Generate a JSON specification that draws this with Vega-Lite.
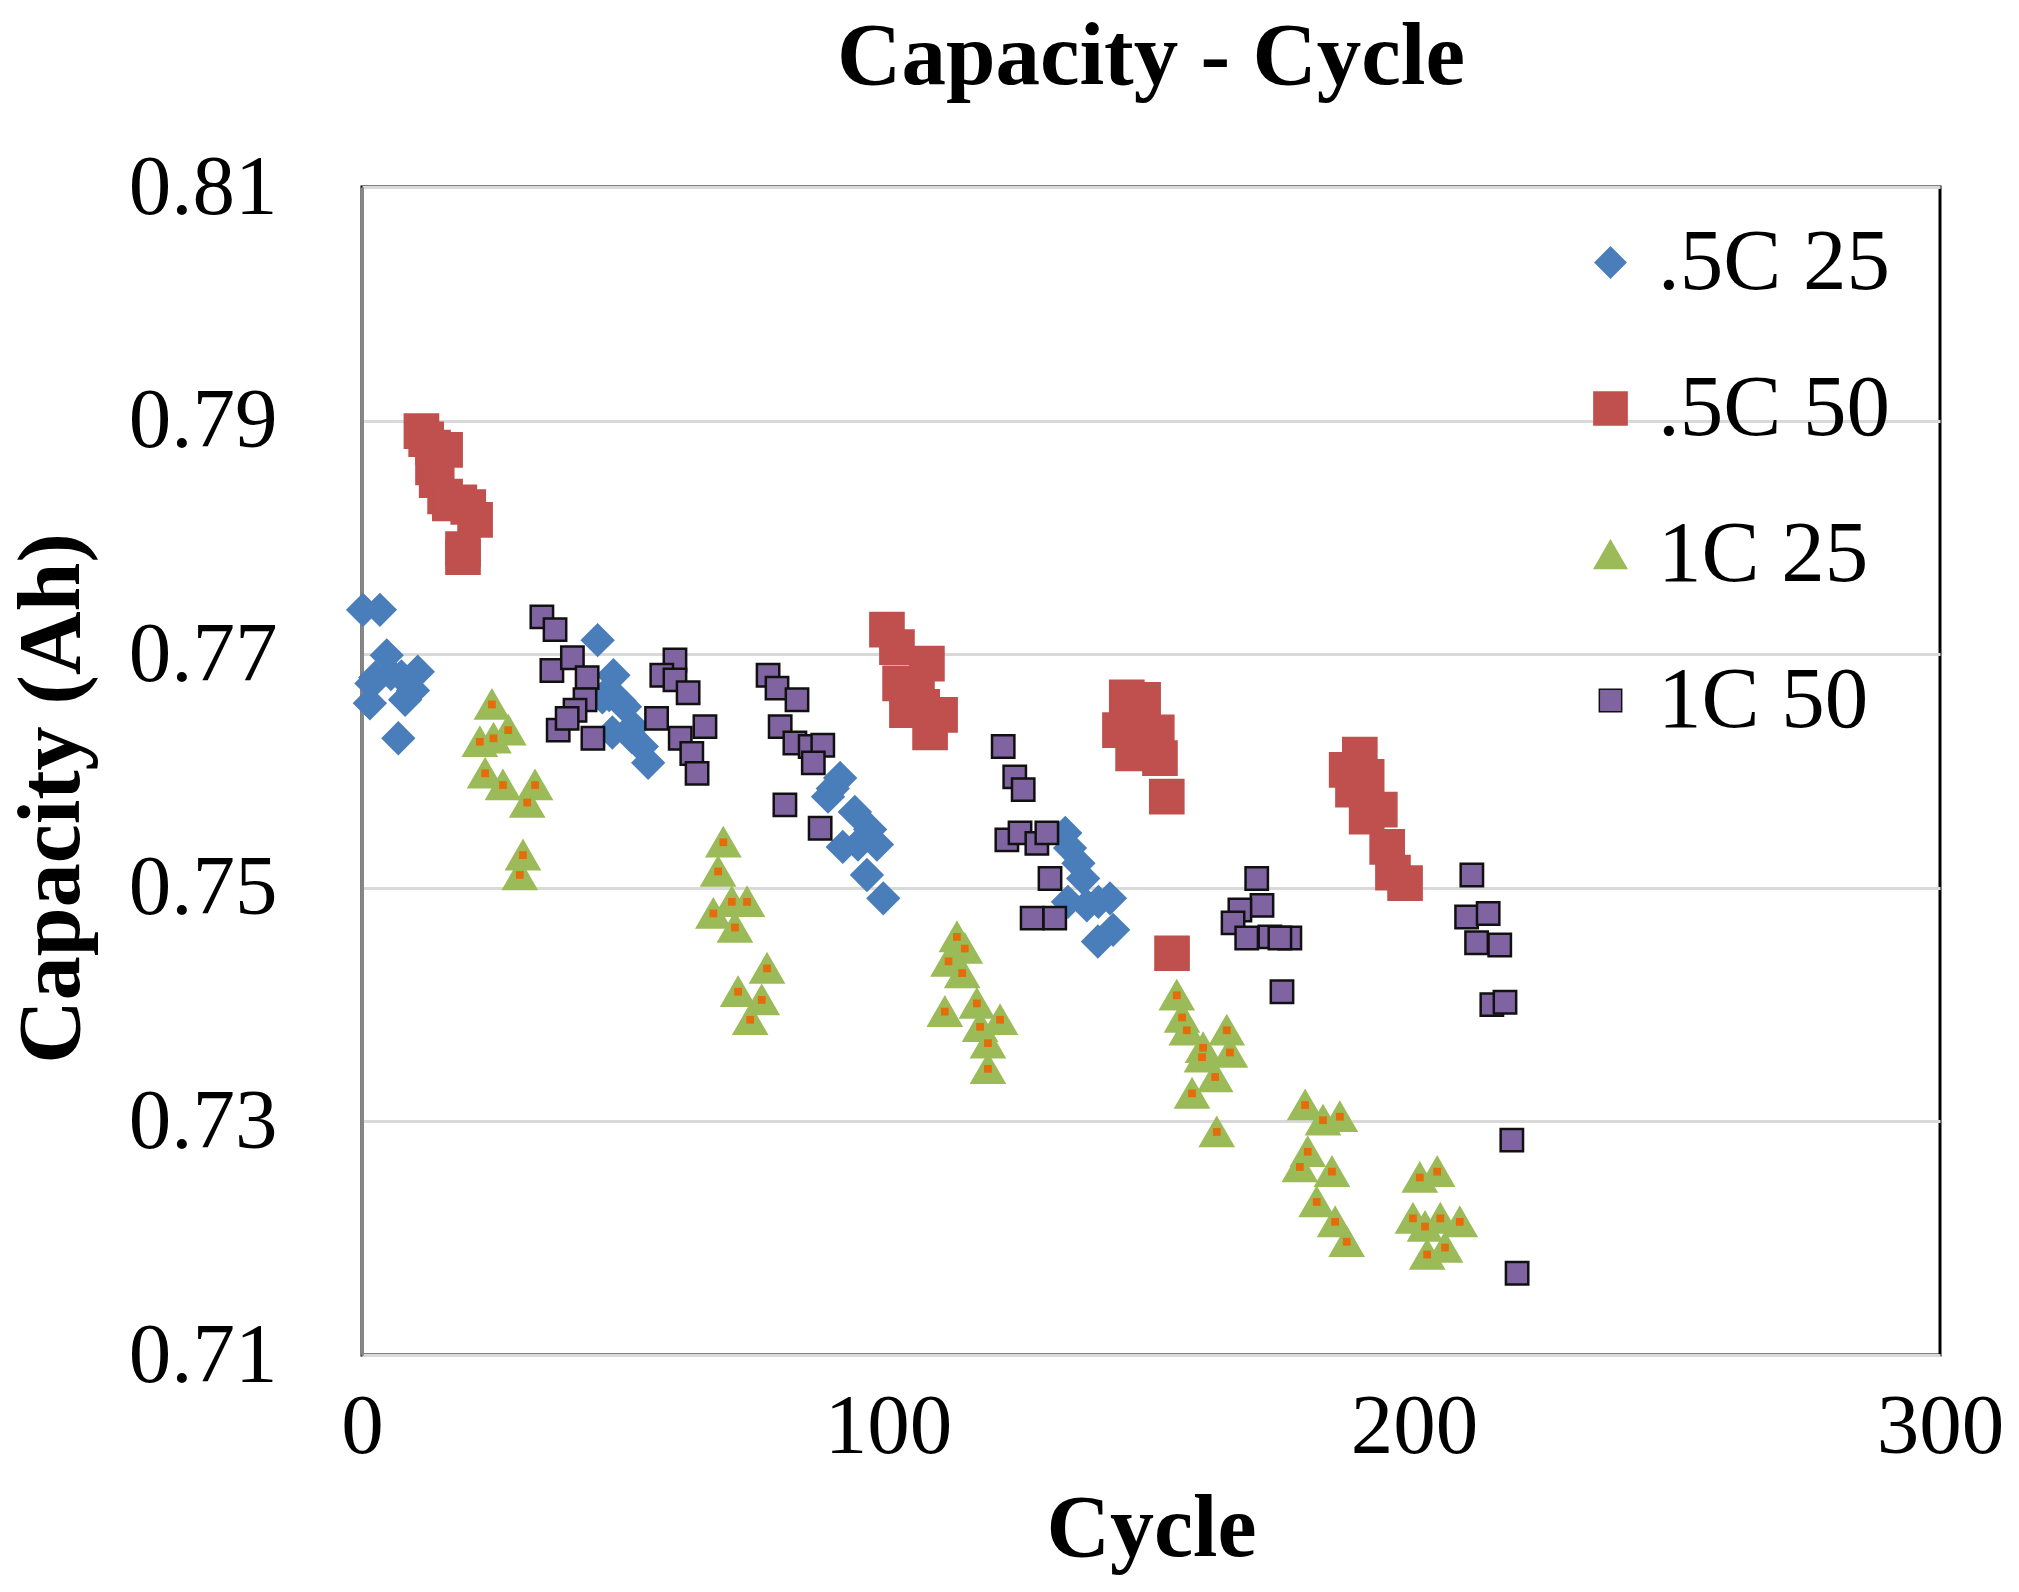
{
  "$schema": "https://vega.github.io/schema/vega-lite/v6.json",
  "autosize": "none",
  "width": 1578,
  "height": 1168,
  "padding": {"left": 362, "top": 187, "right": 79, "bottom": 237},
  "background": "white",
  "title": {
    "text": "Capacity - Cycle",
    "font": "Liberation Serif",
    "fontSize": 89,
    "fontWeight": "bold",
    "color": "black",
    "anchor": "middle",
    "frame": "group",
    "baseline": "alphabetic",
    "offset": -28
  },
  "data": {
    "values": [
      {"cycle": 0.2, "capacity": 0.7738, "series": ".5C 25"},
      {"cycle": 3.4, "capacity": 0.7738, "series": ".5C 25"},
      {"cycle": 4.7, "capacity": 0.7699, "series": ".5C 25"},
      {"cycle": 1.8, "capacity": 0.7675, "series": ".5C 25"},
      {"cycle": 2.5, "capacity": 0.768, "series": ".5C 25"},
      {"cycle": 5.5, "capacity": 0.7683, "series": ".5C 25"},
      {"cycle": 7.5, "capacity": 0.7681, "series": ".5C 25"},
      {"cycle": 10.6, "capacity": 0.7685, "series": ".5C 25"},
      {"cycle": 9.7, "capacity": 0.7669, "series": ".5C 25"},
      {"cycle": 8.2, "capacity": 0.7661, "series": ".5C 25"},
      {"cycle": 1.5, "capacity": 0.7658, "series": ".5C 25"},
      {"cycle": 6.9, "capacity": 0.7628, "series": ".5C 25"},
      {"cycle": 44.8, "capacity": 0.7712, "series": ".5C 25"},
      {"cycle": 47.8, "capacity": 0.7682, "series": ".5C 25"},
      {"cycle": 45.7, "capacity": 0.7663, "series": ".5C 25"},
      {"cycle": 47.0, "capacity": 0.7665, "series": ".5C 25"},
      {"cycle": 49.0, "capacity": 0.766, "series": ".5C 25"},
      {"cycle": 50.0, "capacity": 0.7655, "series": ".5C 25"},
      {"cycle": 47.6, "capacity": 0.7633, "series": ".5C 25"},
      {"cycle": 51.3, "capacity": 0.7629, "series": ".5C 25"},
      {"cycle": 51.5, "capacity": 0.7638, "series": ".5C 25"},
      {"cycle": 53.2, "capacity": 0.7621, "series": ".5C 25"},
      {"cycle": 54.4, "capacity": 0.7607, "series": ".5C 25"},
      {"cycle": 90.9, "capacity": 0.7594, "series": ".5C 25"},
      {"cycle": 88.6, "capacity": 0.7578, "series": ".5C 25"},
      {"cycle": 89.5, "capacity": 0.7585, "series": ".5C 25"},
      {"cycle": 93.7, "capacity": 0.7565, "series": ".5C 25"},
      {"cycle": 96.6, "capacity": 0.755, "series": ".5C 25"},
      {"cycle": 91.4, "capacity": 0.7535, "series": ".5C 25"},
      {"cycle": 94.3, "capacity": 0.7537, "series": ".5C 25"},
      {"cycle": 97.9, "capacity": 0.7537, "series": ".5C 25"},
      {"cycle": 96.0, "capacity": 0.7511, "series": ".5C 25"},
      {"cycle": 99.1, "capacity": 0.7491, "series": ".5C 25"},
      {"cycle": 133.7, "capacity": 0.7547, "series": ".5C 25"},
      {"cycle": 134.6, "capacity": 0.7534, "series": ".5C 25"},
      {"cycle": 136.2, "capacity": 0.7521, "series": ".5C 25"},
      {"cycle": 137.1, "capacity": 0.7508, "series": ".5C 25"},
      {"cycle": 134.2, "capacity": 0.7488, "series": ".5C 25"},
      {"cycle": 137.8, "capacity": 0.7485, "series": ".5C 25"},
      {"cycle": 140.0, "capacity": 0.7488, "series": ".5C 25"},
      {"cycle": 142.2, "capacity": 0.7491, "series": ".5C 25"},
      {"cycle": 142.8, "capacity": 0.7464, "series": ".5C 25"},
      {"cycle": 139.9, "capacity": 0.7454, "series": ".5C 25"},
      {"cycle": 11.3, "capacity": 0.7891, "series": ".5C 50"},
      {"cycle": 12.2, "capacity": 0.7884, "series": ".5C 50"},
      {"cycle": 13.5, "capacity": 0.7877, "series": ".5C 50"},
      {"cycle": 15.8, "capacity": 0.7875, "series": ".5C 50"},
      {"cycle": 13.5, "capacity": 0.786, "series": ".5C 50"},
      {"cycle": 14.2, "capacity": 0.7849, "series": ".5C 50"},
      {"cycle": 15.8, "capacity": 0.7835, "series": ".5C 50"},
      {"cycle": 16.7, "capacity": 0.7829, "series": ".5C 50"},
      {"cycle": 18.5, "capacity": 0.783, "series": ".5C 50"},
      {"cycle": 20.2, "capacity": 0.7826, "series": ".5C 50"},
      {"cycle": 21.5, "capacity": 0.7815, "series": ".5C 50"},
      {"cycle": 19.2, "capacity": 0.779, "series": ".5C 50"},
      {"cycle": 19.2, "capacity": 0.7783, "series": ".5C 50"},
      {"cycle": 99.8, "capacity": 0.7721, "series": ".5C 50"},
      {"cycle": 101.7, "capacity": 0.7706, "series": ".5C 50"},
      {"cycle": 107.4, "capacity": 0.7692, "series": ".5C 50"},
      {"cycle": 102.3, "capacity": 0.7675, "series": ".5C 50"},
      {"cycle": 105.5, "capacity": 0.7663, "series": ".5C 50"},
      {"cycle": 103.6, "capacity": 0.7652, "series": ".5C 50"},
      {"cycle": 109.9, "capacity": 0.7648, "series": ".5C 50"},
      {"cycle": 108.0, "capacity": 0.7633, "series": ".5C 50"},
      {"cycle": 106.5, "capacity": 0.7655, "series": ".5C 50"},
      {"cycle": 145.4, "capacity": 0.7663, "series": ".5C 50"},
      {"cycle": 148.5, "capacity": 0.7661, "series": ".5C 50"},
      {"cycle": 144.1, "capacity": 0.7635, "series": ".5C 50"},
      {"cycle": 147.3, "capacity": 0.7638, "series": ".5C 50"},
      {"cycle": 151.1, "capacity": 0.7633, "series": ".5C 50"},
      {"cycle": 146.6, "capacity": 0.7615, "series": ".5C 50"},
      {"cycle": 151.7, "capacity": 0.7611, "series": ".5C 50"},
      {"cycle": 149.0, "capacity": 0.7625, "series": ".5C 50"},
      {"cycle": 153.0, "capacity": 0.7578, "series": ".5C 50"},
      {"cycle": 154.0, "capacity": 0.7444, "series": ".5C 50"},
      {"cycle": 189.7, "capacity": 0.7614, "series": ".5C 50"},
      {"cycle": 187.2, "capacity": 0.7601, "series": ".5C 50"},
      {"cycle": 191.0, "capacity": 0.7595, "series": ".5C 50"},
      {"cycle": 188.4, "capacity": 0.7584, "series": ".5C 50"},
      {"cycle": 193.5, "capacity": 0.7567, "series": ".5C 50"},
      {"cycle": 191.0, "capacity": 0.7561, "series": ".5C 50"},
      {"cycle": 194.9, "capacity": 0.7535, "series": ".5C 50"},
      {"cycle": 196.0, "capacity": 0.7513, "series": ".5C 50"},
      {"cycle": 198.3, "capacity": 0.7504, "series": ".5C 50"},
      {"cycle": 24.7, "capacity": 0.7657, "series": "1C 25"},
      {"cycle": 27.8, "capacity": 0.7635, "series": "1C 25"},
      {"cycle": 22.4, "capacity": 0.7625, "series": "1C 25"},
      {"cycle": 25.0, "capacity": 0.7628, "series": "1C 25"},
      {"cycle": 23.4, "capacity": 0.7598, "series": "1C 25"},
      {"cycle": 26.8, "capacity": 0.7588, "series": "1C 25"},
      {"cycle": 32.9, "capacity": 0.7588, "series": "1C 25"},
      {"cycle": 31.4, "capacity": 0.7573, "series": "1C 25"},
      {"cycle": 30.6, "capacity": 0.7528, "series": "1C 25"},
      {"cycle": 30.0, "capacity": 0.7511, "series": "1C 25"},
      {"cycle": 68.7, "capacity": 0.7539, "series": "1C 25"},
      {"cycle": 67.7, "capacity": 0.7514, "series": "1C 25"},
      {"cycle": 66.8, "capacity": 0.7478, "series": "1C 25"},
      {"cycle": 70.3, "capacity": 0.7488, "series": "1C 25"},
      {"cycle": 73.2, "capacity": 0.7488, "series": "1C 25"},
      {"cycle": 70.9, "capacity": 0.7466, "series": "1C 25"},
      {"cycle": 77.0, "capacity": 0.7431, "series": "1C 25"},
      {"cycle": 71.5, "capacity": 0.7411, "series": "1C 25"},
      {"cycle": 76.0, "capacity": 0.7404, "series": "1C 25"},
      {"cycle": 73.8, "capacity": 0.7387, "series": "1C 25"},
      {"cycle": 113.1, "capacity": 0.7458, "series": "1C 25"},
      {"cycle": 114.6, "capacity": 0.7448, "series": "1C 25"},
      {"cycle": 111.5, "capacity": 0.7437, "series": "1C 25"},
      {"cycle": 114.1, "capacity": 0.7427, "series": "1C 25"},
      {"cycle": 110.8, "capacity": 0.7394, "series": "1C 25"},
      {"cycle": 116.9, "capacity": 0.7401, "series": "1C 25"},
      {"cycle": 121.3, "capacity": 0.7387, "series": "1C 25"},
      {"cycle": 117.5, "capacity": 0.7381, "series": "1C 25"},
      {"cycle": 119.0, "capacity": 0.7367, "series": "1C 25"},
      {"cycle": 119.0, "capacity": 0.7345, "series": "1C 25"},
      {"cycle": 154.9, "capacity": 0.7408, "series": "1C 25"},
      {"cycle": 155.9, "capacity": 0.7389, "series": "1C 25"},
      {"cycle": 156.8, "capacity": 0.7378, "series": "1C 25"},
      {"cycle": 159.9, "capacity": 0.7363, "series": "1C 25"},
      {"cycle": 164.4, "capacity": 0.7378, "series": "1C 25"},
      {"cycle": 165.0, "capacity": 0.7359, "series": "1C 25"},
      {"cycle": 159.7, "capacity": 0.7355, "series": "1C 25"},
      {"cycle": 162.2, "capacity": 0.7338, "series": "1C 25"},
      {"cycle": 157.8, "capacity": 0.7324, "series": "1C 25"},
      {"cycle": 162.5, "capacity": 0.7291, "series": "1C 25"},
      {"cycle": 179.3, "capacity": 0.7314, "series": "1C 25"},
      {"cycle": 182.7, "capacity": 0.7301, "series": "1C 25"},
      {"cycle": 185.9, "capacity": 0.7304, "series": "1C 25"},
      {"cycle": 179.8, "capacity": 0.7274, "series": "1C 25"},
      {"cycle": 178.3, "capacity": 0.7261, "series": "1C 25"},
      {"cycle": 184.4, "capacity": 0.7257, "series": "1C 25"},
      {"cycle": 181.5, "capacity": 0.7231, "series": "1C 25"},
      {"cycle": 185.0, "capacity": 0.7214, "series": "1C 25"},
      {"cycle": 187.2, "capacity": 0.7197, "series": "1C 25"},
      {"cycle": 201.1, "capacity": 0.7252, "series": "1C 25"},
      {"cycle": 204.4, "capacity": 0.7257, "series": "1C 25"},
      {"cycle": 199.8, "capacity": 0.7217, "series": "1C 25"},
      {"cycle": 202.1, "capacity": 0.721, "series": "1C 25"},
      {"cycle": 205.0, "capacity": 0.7217, "series": "1C 25"},
      {"cycle": 208.7, "capacity": 0.7214, "series": "1C 25"},
      {"cycle": 205.9, "capacity": 0.7192, "series": "1C 25"},
      {"cycle": 202.5, "capacity": 0.7186, "series": "1C 25"},
      {"cycle": 34.2, "capacity": 0.7732, "series": "1C 50"},
      {"cycle": 36.7, "capacity": 0.7721, "series": "1C 50"},
      {"cycle": 36.1, "capacity": 0.7686, "series": "1C 50"},
      {"cycle": 40.0, "capacity": 0.7697, "series": "1C 50"},
      {"cycle": 42.8, "capacity": 0.768, "series": "1C 50"},
      {"cycle": 42.4, "capacity": 0.7661, "series": "1C 50"},
      {"cycle": 40.5, "capacity": 0.7652, "series": "1C 50"},
      {"cycle": 37.3, "capacity": 0.7635, "series": "1C 50"},
      {"cycle": 43.9, "capacity": 0.7628, "series": "1C 50"},
      {"cycle": 39.0, "capacity": 0.7645, "series": "1C 50"},
      {"cycle": 59.5, "capacity": 0.7695, "series": "1C 50"},
      {"cycle": 57.0, "capacity": 0.7682, "series": "1C 50"},
      {"cycle": 59.5, "capacity": 0.7678, "series": "1C 50"},
      {"cycle": 62.0, "capacity": 0.7667, "series": "1C 50"},
      {"cycle": 56.0, "capacity": 0.7645, "series": "1C 50"},
      {"cycle": 60.5, "capacity": 0.7628, "series": "1C 50"},
      {"cycle": 65.2, "capacity": 0.7638, "series": "1C 50"},
      {"cycle": 62.7, "capacity": 0.7615, "series": "1C 50"},
      {"cycle": 63.7, "capacity": 0.7598, "series": "1C 50"},
      {"cycle": 77.2, "capacity": 0.7682, "series": "1C 50"},
      {"cycle": 78.9, "capacity": 0.7671, "series": "1C 50"},
      {"cycle": 82.7, "capacity": 0.7661, "series": "1C 50"},
      {"cycle": 79.5, "capacity": 0.7638, "series": "1C 50"},
      {"cycle": 82.3, "capacity": 0.7624, "series": "1C 50"},
      {"cycle": 85.2, "capacity": 0.7621, "series": "1C 50"},
      {"cycle": 87.6, "capacity": 0.7622, "series": "1C 50"},
      {"cycle": 85.8, "capacity": 0.7607, "series": "1C 50"},
      {"cycle": 80.4, "capacity": 0.7571, "series": "1C 50"},
      {"cycle": 87.1, "capacity": 0.7551, "series": "1C 50"},
      {"cycle": 121.9, "capacity": 0.7621, "series": "1C 50"},
      {"cycle": 124.1, "capacity": 0.7595, "series": "1C 50"},
      {"cycle": 125.7, "capacity": 0.7584, "series": "1C 50"},
      {"cycle": 122.6, "capacity": 0.7541, "series": "1C 50"},
      {"cycle": 125.1, "capacity": 0.7547, "series": "1C 50"},
      {"cycle": 128.3, "capacity": 0.7538, "series": "1C 50"},
      {"cycle": 130.2, "capacity": 0.7547, "series": "1C 50"},
      {"cycle": 130.8, "capacity": 0.7508, "series": "1C 50"},
      {"cycle": 127.4, "capacity": 0.7474, "series": "1C 50"},
      {"cycle": 131.7, "capacity": 0.7474, "series": "1C 50"},
      {"cycle": 170.1, "capacity": 0.7508, "series": "1C 50"},
      {"cycle": 171.1, "capacity": 0.7485, "series": "1C 50"},
      {"cycle": 166.9, "capacity": 0.7481, "series": "1C 50"},
      {"cycle": 165.6, "capacity": 0.747, "series": "1C 50"},
      {"cycle": 168.2, "capacity": 0.7457, "series": "1C 50"},
      {"cycle": 172.6, "capacity": 0.7458, "series": "1C 50"},
      {"cycle": 176.4, "capacity": 0.7457, "series": "1C 50"},
      {"cycle": 174.5, "capacity": 0.7457, "series": "1C 50"},
      {"cycle": 174.9, "capacity": 0.7411, "series": "1C 50"},
      {"cycle": 211.0, "capacity": 0.7511, "series": "1C 50"},
      {"cycle": 210.0, "capacity": 0.7475, "series": "1C 50"},
      {"cycle": 214.1, "capacity": 0.7478, "series": "1C 50"},
      {"cycle": 211.9, "capacity": 0.7453, "series": "1C 50"},
      {"cycle": 216.3, "capacity": 0.7451, "series": "1C 50"},
      {"cycle": 214.8, "capacity": 0.74, "series": "1C 50"},
      {"cycle": 217.3, "capacity": 0.7402, "series": "1C 50"},
      {"cycle": 218.6, "capacity": 0.7284, "series": "1C 50"},
      {"cycle": 219.6, "capacity": 0.717, "series": "1C 50"}
    ]
  },
  "encoding": {
    "x": {
      "field": "cycle",
      "type": "quantitative",
      "title": "Cycle",
      "scale": {"domain": [0, 300], "nice": false},
      "axis": {
        "values": [0, 100, 200, 300],
        "grid": false,
        "ticks": false,
        "domain": false,
        "labelFont": "Liberation Serif",
        "labelFontSize": 85,
        "labelColor": "black",
        "labelPadding": 30,
        "labelFlush": false,
        "labelOverlap": false,
        "titleFont": "Liberation Serif",
        "titleFontSize": 88,
        "titleFontWeight": "bold",
        "titleColor": "black",
        "titleBaseline": "alphabetic",
        "titleX": 789,
        "titleY": 200
      }
    },
    "y": {
      "field": "capacity",
      "type": "quantitative",
      "title": "Capacity (Ah)",
      "scale": {"domain": [0.71, 0.81], "nice": false, "zero": false},
      "axis": {
        "values": [0.71, 0.73, 0.75, 0.77, 0.79, 0.81],
        "format": ".2f",
        "ticks": false,
        "domain": true,
        "domainColor": "#868686",
        "domainWidth": 3,
        "grid": true,
        "gridColor": "#d9d9d9",
        "gridWidth": 3,
        "labelFont": "Liberation Serif",
        "labelFontSize": 85,
        "labelColor": "black",
        "labelPadding": 85,
        "labelFlush": false,
        "labelOverlap": false,
        "titleFont": "Liberation Serif",
        "titleFontSize": 88,
        "titleFontWeight": "bold",
        "titleColor": "black",
        "titleAngle": -90,
        "titleBaseline": "middle",
        "titleX": -310,
        "titleY": 611
      }
    }
  },
  "layer": [
    {
      "mark": {"type": "point", "filled": true, "opacity": 1, "strokeWidth": 2.5},
      "encoding": {
        "color": {
          "field": "series",
          "type": "nominal",
          "title": null,
          "scale": {
            "domain": [".5C 25", ".5C 50", "1C 25", "1C 50"],
            "range": ["#4a7ebb", "#c0504d", "#9bbb59", "#8064a2"]
          },
          "legend": {
            "orient": "none",
            "legendX": 1205,
            "legendY": 32,
            "padding": 0,
            "rowPadding": 58,
            "labelFont": "Liberation Serif",
            "labelFontSize": 87,
            "labelColor": "black",
            "labelOffset": 4,
            "labelLimit": 500,
            "symbolOpacity": 1
          }
        },
        "shape": {
          "field": "series",
          "type": "nominal",
          "title": null,
          "scale": {
            "domain": [".5C 25", ".5C 50", "1C 25", "1C 50"],
            "range": ["diamond", "square", "triangle-up", "square"]
          }
        },
        "size": {
          "field": "series",
          "type": "nominal",
          "title": null,
          "scale": {
            "type": "ordinal",
            "domain": [".5C 25", ".5C 50", "1C 25", "1C 50"],
            "range": [950, 1100, 1050, 500]
          }
        },
        "stroke": {
          "field": "series",
          "type": "nominal",
          "title": null,
          "scale": {
            "domain": [".5C 25", ".5C 50", "1C 25", "1C 50"],
            "range": ["#4a7ebb", "#c0504d", "#9bbb59", "#111111"]
          }
        }
      }
    },
    {
      "transform": [{"filter": "datum.series == '1C 25'"}],
      "mark": {"type": "square", "color": "#e46c0a", "size": 60, "opacity": 1}
    }
  ],
  "config": {
    "view": {"stroke": "#000000", "strokeWidth": 3}
  }
}
